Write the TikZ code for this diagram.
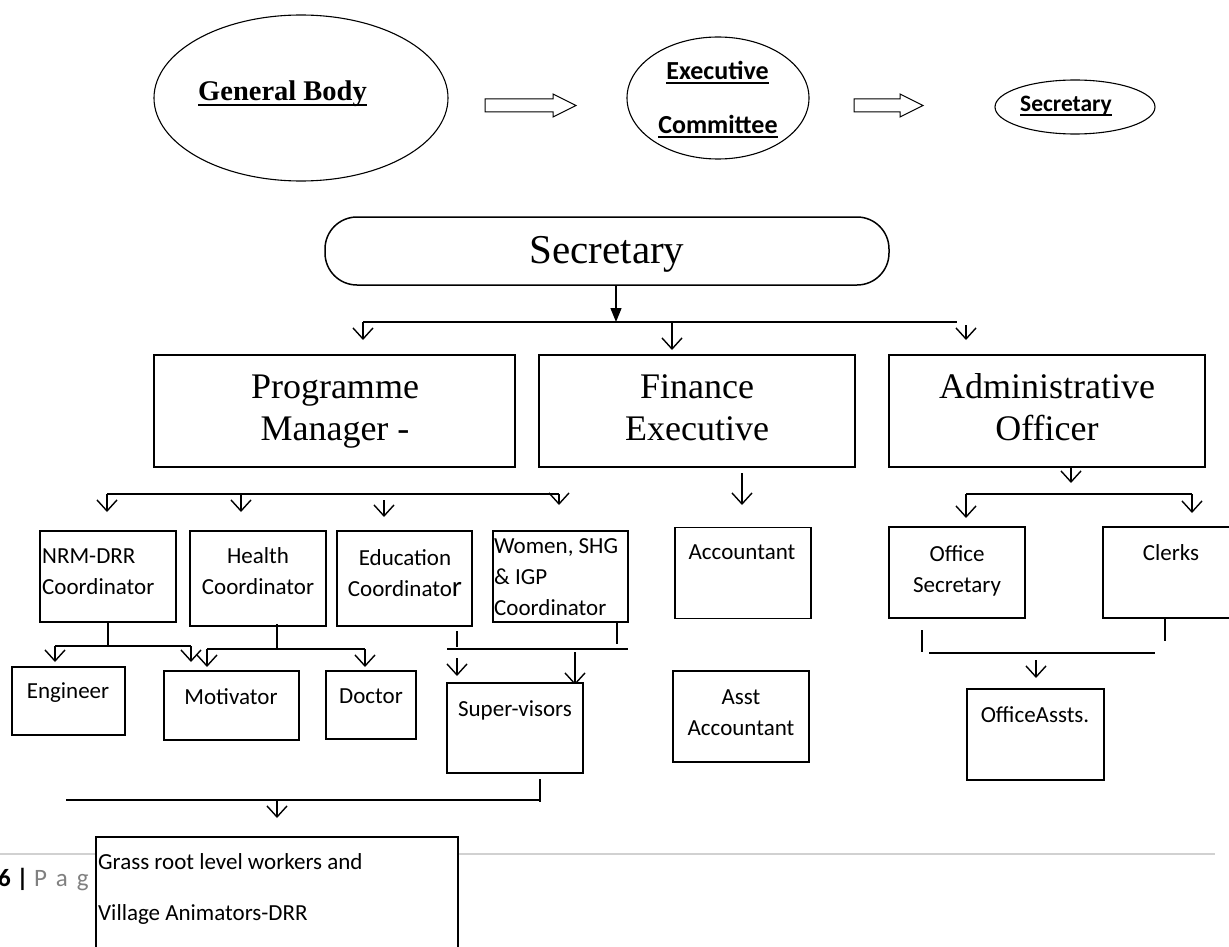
\documentclass[tikz,border=0pt]{standalone}
\usepackage{fontspec}
\setmainfont{Liberation Serif}
\setsansfont{Carlito}
\newsavebox{\ulbox}
\newcommand{\ulin}[2][-4pt]{\sbox{\ulbox}{#2}\rlap{\rule[#1]{\wd\ulbox}{1.6pt}}\usebox{\ulbox}}
\usetikzlibrary{arrows.meta,shapes.geometric}
\begin{document}
\begin{tikzpicture}[x=1pt, y=-1pt,
        box/.style={draw, line width=1.5pt, fill=white, inner sep=0pt},
        oval/.style={draw, ellipse, line width=1.1pt, inner sep=0pt},
        seriftxt/.style={font=\rmfamily\fontsize{36}{42}\selectfont, align=center, anchor=base, inner sep=0pt},
        sanstxt/.style={font=\sffamily\fontsize{23}{31}\selectfont, align=center, anchor=base, inner sep=0pt},
        boldtxt/.style={font=\sffamily\bfseries\fontsize{26}{30}\selectfont, anchor=base, inner sep=0pt},
        ln/.style={line width=1.4pt},
        arr/.style={ln, -{Straight Barb[length=11pt, width=20pt]}}
    ]
    \useasboundingbox (0,0) rectangle (1229,947);

    \node[oval, minimum width=294pt, minimum height=166pt] (gbody) at (301,98) {};
    \node[font=\rmfamily\bfseries\fontsize{28.5}{34}\selectfont, anchor=base, inner sep=0pt]
        (gbodytxt) at (282.5,101) {\ulin[-5pt]{General Body}};
    \node[oval, minimum width=182pt, minimum height=122pt] (exec) at (718,98) {};
    \node[boldtxt] (exectxt1) at (717.5,80) {\ulin{Executive}};
    \node[boldtxt] (exectxt2) at (718,134) {\ulin{Committee}};
    \node[oval, minimum width=160pt, minimum height=54pt] (sec) at (1075,107) {};
    \node[boldtxt, font=\sffamily\bfseries\fontsize{23.5}{28}\selectfont]
        (sectxt) at (1066,112) {\ulin{Secretary}};

    \coordinate (blk1) at (485,105.5);
    \coordinate (blk2) at (854,105.5);
    \foreach \b/\l in {blk1/68, blk2/46}
        \draw[line width=1pt] (\b) ++(0,-6.5) -- ++(\l,0) -- ++(0,-5) -- ++(23,11.5)
            -- ++(-23,11.5) -- ++(0,-5) -- ++(-\l,0) -- cycle;

    \node[box, rounded corners=32pt, minimum width=564pt, minimum height=68pt] (secbox) at (607,251) {};
    \node[seriftxt, font=\rmfamily\fontsize{41}{48}\selectfont] (secboxtxt) at (607,263) {Secretary};

    \node[box, minimum width=361pt, minimum height=112pt] (prog) at (334.5,411) {};
    \node[box, minimum width=316pt, minimum height=112pt] (fin) at (697,411) {};
    \node[box, minimum width=316pt, minimum height=112pt] (adm) at (1047,411) {};
    \node[seriftxt] (progtxt) at (335,440) {Programme\\Manager -};
    \node[seriftxt] (fintxt) at (697,440) {Finance\\Executive};
    \node[seriftxt] (admtxt) at (1047,440) {Administrative\\Officer};

    \coordinate (hub) at (616,322);
    \draw[ln, -{Triangle[length=14pt, width=11pt]}] (secbox.south -| hub) -- (hub);
    \draw[ln] (363,322) coordinate (busL) -- (957,322) coordinate (busR);
    \draw[arr] (busL) -- ++(0,18);
    \draw[arr] (672,322) -- ++(0,28);
    \draw[arr] (966,325) -- ++(0,15);

    \draw[ln] (107,494) coordinate (pbusL) -- (559,494) coordinate (pbusR);
    \draw[arr] (pbusL) -- ++(0,18);
    \draw[arr] (241,494) -- ++(0,18);
    \draw[arr] (384,500) -- ++(0,17);
    \draw[arr] (pbusR) -- ++(0,11);
    \draw[arr] (742,473) -- ++(0,32);
    \draw[arr] (1071,467) -- ++(0,16);
    \draw[ln] (966,494) coordinate (abusL) -- (1192,494) coordinate (abusR);
    \draw[arr] (abusL) -- ++(0,24);
    \draw[arr] (abusR) -- ++(0,19);

    \node[box, minimum width=136pt, minimum height=91pt] (nrm) at (108,576.5) {};
    \node[box, minimum width=136pt, minimum height=95pt] (health) at (258,578.5) {};
    \node[box, minimum width=135pt, minimum height=95pt] (edu) at (404.5,578.5) {};
    \node[box, minimum width=135pt, minimum height=91pt] (women) at (560.5,576.5) {};
    \node[box, minimum width=136pt, minimum height=91pt] (acct) at (743,573) {};
    \node[box, minimum width=136pt, minimum height=91pt] (asst) at (741,716.5) {};
    \node[box, minimum width=136pt, minimum height=91pt] (offsec) at (957,572.5) {};
    \node[box, minimum width=136pt, minimum height=91pt] (clerks) at (1171,572.5) {};
    \node[box, minimum width=137pt, minimum height=91pt] (offassts) at (1035.5,734.5) {};
    \node[sanstxt, anchor=base west, align=left] (nrmtxt) at (42,594) {NRM-DRR\\Coordinator};
    \node[sanstxt] (healthtxt) at (258,594) {Health\\Coordinator};
    \node[sanstxt] (edutxt) at (405,596) {Education\\Coordinato{\fontsize{29}{31}\selectfont r}};
    \node[sanstxt, anchor=base west, align=left] (womentxt) at (494,615) {Women, SHG\\\& IGP\\Coordinator};
    \node[sanstxt] (accttxt) at (742,559) {Accountant};
    \node[sanstxt] (assttxt) at (741,735) {Asst\\Accountant};
    \node[sanstxt] (offsectxt) at (957,592) {Office\\Secretary};
    \node[sanstxt] (clerkstxt) at (1171,560) {Clerks};
    \node[sanstxt] (offasststxt) at (1035,722) {OfficeAssts.};

    \draw[ln] (nrm.south) -- (108,646);
    \draw[ln] (55,646) coordinate (nbusL) -- (191,646) coordinate (nbusR);
    \draw[arr] (nbusL) -- ++(0,16);
    \draw[arr] (nbusR) -- ++(0,16);
    \draw[ln] (277,624) -- (277,649);
    \draw[ln] (207,649) coordinate (hbusL) -- (365,649) coordinate (hbusR);
    \draw[arr] (hbusL) -- ++(0,18);
    \draw[arr] (hbusR) -- ++(0,18);
    \draw[ln] (457,631) -- (457,647);
    \draw[ln] (617,622) -- (617,644);
    \draw[ln] (447,649) -- (628,649);
    \draw[arr] (457,658) -- ++(0,18);
    \draw[arr] (575,652) -- ++(0,33);
    \draw[ln] (922,630) -- (922,652);
    \draw[ln] (1165,619) -- (1165,641);
    \draw[ln] (929,653) -- (1155,653);
    \draw[arr] (1036,660) -- ++(0,18);

    \node[box, minimum width=113pt, minimum height=68pt] (eng) at (68.5,701) {};
    \node[box, minimum width=135pt, minimum height=69pt] (motiv) at (231.5,705.5) {};
    \node[box, minimum width=90pt, minimum height=68pt] (doctor) at (371,705) {};
    \node[box, minimum width=136pt, minimum height=90pt] (superv) at (515,728) {};
    \node[sanstxt] (engtxt) at (68,698) {Engineer};
    \node[sanstxt] (motivtxt) at (231,704) {Motivator};
    \node[sanstxt] (doctortxt) at (371,703) {Doctor};
    \node[sanstxt] (supervtxt) at (515,716) {Super-visors};

    \draw[ln] (540,779) -- (540,802);
    \draw[ln] (66,800) -- (540,800);
    \draw[arr] (277,800) -- ++(0,18);

    \draw[black!18, line width=1.6pt] (0,854) -- (1215,854);
    \node[anchor=base west, inner sep=0pt, font=\sffamily\fontsize{25}{30}\selectfont]
        (pagetxt) at (-2,886) {\textbf{6 |} \textcolor{black!50}{P\hspace{9pt}a\hspace{9pt}g}};
    \node[box, minimum width=362pt, minimum height=166pt] (grass) at (277,920) {};
    \node[sanstxt, font=\sffamily\fontsize{23}{51}\selectfont, anchor=base west, align=left]
        (grasstxt) at (98,920) {Grass root level workers and\\Village Animators-DRR};
\end{tikzpicture}
\end{document}
